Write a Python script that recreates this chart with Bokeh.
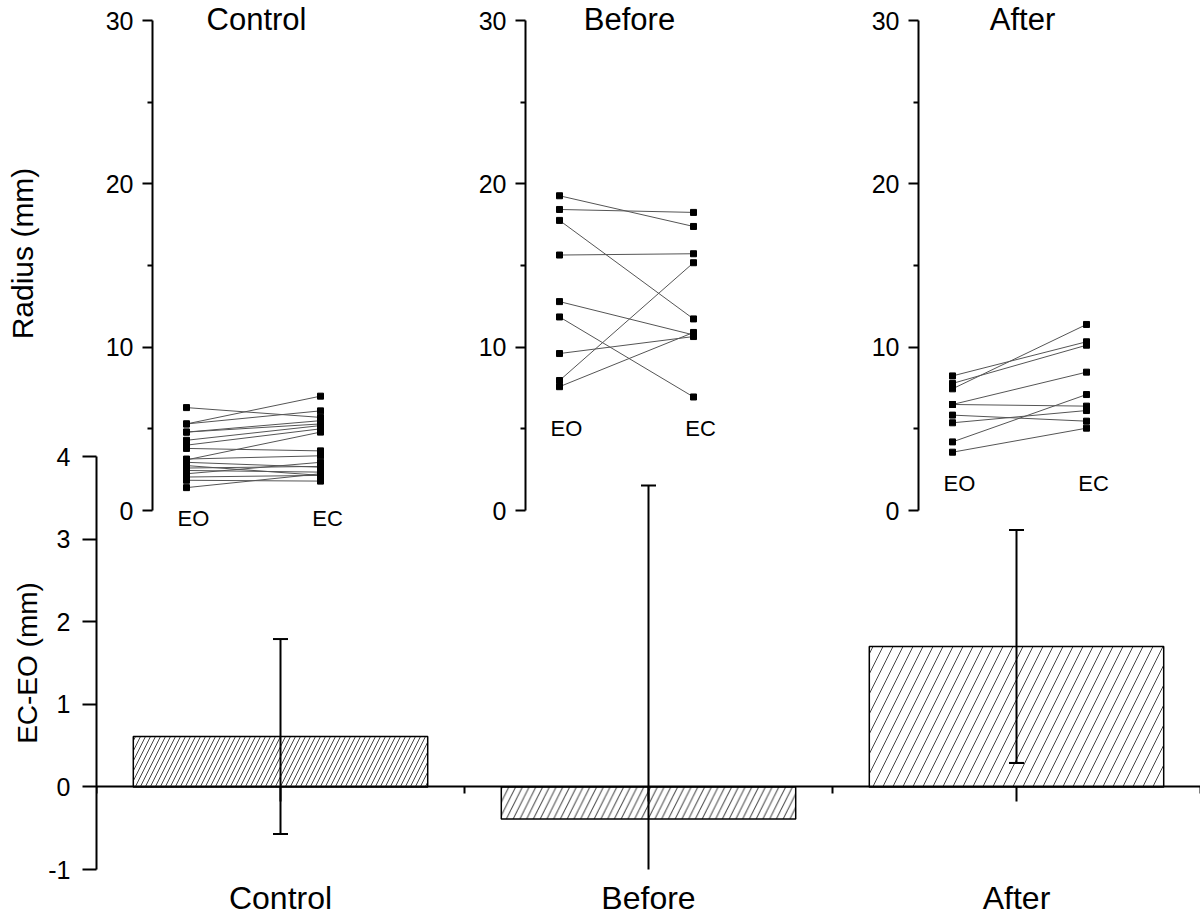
import numpy as np
from bokeh.plotting import figure
from bokeh.models import Range1d, LinearAxis, FixedTicker, ColumnDataSource, Label
from bokeh.embed import file_html
from bokeh.resources import INLINE
from bokeh.core.properties import value

FONT = "Liberation Sans"

# ---------------- data ----------------
categories = ["Control", "Before", "After"]
diff_mean = [0.61, -0.39, 1.70]          # EC-EO (mm)
diff_sd = [1.18, 4.04, 1.41]
diff_ticks = [-1, 0, 1, 2, 3, 4]

pair_labels = ["EO", "EC"]
radius_ticks = [0, 10, 20, 30]

control_eo = [6.3, 5.3, 5.3, 4.8, 4.8, 4.3, 4.0, 3.8, 3.1, 3.15, 2.95, 2.75, 2.6, 2.45, 2.25, 2.05, 1.85, 1.4]
control_ec = [5.7, 7.0, 6.1, 5.5, 5.3, 5.2, 5.0, 3.65, 4.8, 3.35, 2.65, 2.15, 2.7, 2.35, 2.95, 2.15, 1.8, 2.25]

before_eo = [19.27, 18.43, 17.76, 15.64, 12.79, 11.85, 9.61, 7.96, 7.58]
before_ec = [17.39, 18.25, 11.73, 15.72, 10.75, 6.95, 10.65, 15.17, 10.9]

after_eo = [8.24, 7.78, 7.45, 6.49, 6.49, 5.84, 5.37, 4.20, 3.57]
after_ec = [10.33, 10.12, 11.39, 8.47, 6.39, 5.47, 6.12, 7.10, 5.04]

# styles
hatch_scales = [10, 13.5, 20]

# ---------------- main bar chart ----------------
xs = list(range(1, len(categories) + 1))
W, H = 1200, 918
frame_left, frame_top, frame_bottom = 96, 456, 869
p = figure(width=W, height=H,
           x_range=Range1d(0.5, len(categories) + 0.5), y_range=Range1d(-1, 4),
           x_axis_type=None, y_axis_type=None,
           toolbar_location=None, output_backend="svg",
           min_border_left=frame_left, min_border_right=0,
           min_border_top=frame_top, min_border_bottom=H - frame_bottom,
           outline_line_color=None,
           styles={"position": "absolute", "left": "0px", "top": "0px"})

src = ColumnDataSource(dict(x=xs, top=diff_mean, hs=hatch_scales))
p.vbar(x="x", top="top", bottom=0, width=0.8, source=src,
       fill_color="white", line_color="black", line_width=1.5,
       hatch_pattern="/", hatch_scale="hs", hatch_color="#444444", hatch_weight=1)

upper = [m + s for m, s in zip(diff_mean, diff_sd)]
lower = [m - s for m, s in zip(diff_mean, diff_sd)]
p.segment(x0=xs, y0=lower, x1=xs, y1=upper, line_color="black", line_width=2)
p.scatter(x=xs + xs, y=upper + lower, marker="dash", size=15,
          line_color="black", line_width=2)

yaxis = LinearAxis(ticker=FixedTicker(ticks=diff_ticks), axis_label="EC-EO (mm)",
                   major_label_overrides={t: str(t) for t in diff_ticks},
                   major_tick_out=14, major_tick_in=0, major_label_standoff=12,
                   axis_line_width=2, major_tick_line_width=2,
                   major_label_text_font=FONT, major_label_text_font_size="25px",
                   major_label_text_color="black",
                   axis_label_text_font=FONT, axis_label_text_font_size="28px",
                   axis_label_text_font_style="normal", axis_label_text_color="black",
                   axis_label_standoff=2)
p.add_layout(yaxis, "left")

cat_axis = LinearAxis(ticker=FixedTicker(ticks=xs),
                      major_label_overrides={x: c for x, c in zip(xs, categories)},
                      axis_line_color=None, major_tick_line_color=None,
                      major_tick_out=0, major_tick_in=0, major_label_standoff=10,
                      major_label_text_font=FONT, major_label_text_font_size="32px",
                      major_label_text_color="black")
p.add_layout(cat_axis, "below")

boundaries = [x - 0.5 for x in xs] + [xs[-1] + 0.5]
zero_axis = LinearAxis(fixed_location=0,
                       ticker=FixedTicker(ticks=xs, minor_ticks=boundaries),
                       major_label_overrides={x: "" for x in xs},
                       major_tick_in=15, major_tick_out=0,
                       minor_tick_in=7, minor_tick_out=0,
                       axis_line_width=2, major_tick_line_width=2, minor_tick_line_width=2,
                       major_label_text_font_size="1px")
p.add_layout(zero_axis, "above")

# ---------------- insets ----------------
inset_axis_px = [152, 525, 918]
inset_data = [(categories[0], control_eo, control_ec),
              (categories[1], before_eo, before_ec),
              (categories[2], after_eo, after_ec)]
px_per_r = 490 / 30.0
y0_px = 510          # page y of radius 0
inset_top = -30      # page y of inset top edge (shifted up, so the y label centres like the reference)
inset_bottom = 536
inset_h = inset_bottom - inset_top
inset_frame_w = 208
px_per_pair = 134
eo_off = 34

insets = []
for i, (title, eo, ec) in enumerate(inset_data):
    first = i == 0
    bl = 152 if first else 60
    fig_left = inset_axis_px[i] - bl
    xstart = 1 - eo_off / px_per_pair
    ip = figure(width=bl + inset_frame_w, height=inset_h,
                x_range=Range1d(xstart, xstart + inset_frame_w / px_per_pair),
                y_range=Range1d(-(inset_bottom - y0_px) / px_per_r, (y0_px - inset_top) / px_per_r),
                x_axis_type=None, y_axis_type=None,
                toolbar_location=None, output_backend="svg",
                min_border_left=bl, min_border_right=0, min_border_top=0, min_border_bottom=0,
                background_fill_alpha=0, border_fill_alpha=0, outline_line_color=None,
                styles={"position": "absolute", "left": f"{fig_left}px", "top": f"{inset_top}px"})
    minors = [(a + b) / 2 for a, b in zip(radius_ticks[:-1], radius_ticks[1:])]
    ax = LinearAxis(ticker=FixedTicker(ticks=radius_ticks, minor_ticks=minors),
                    bounds=(radius_ticks[0], radius_ticks[-1]),
                    major_tick_out=10, major_tick_in=0, minor_tick_out=5, minor_tick_in=0,
                    major_label_standoff=9, axis_line_width=2,
                    major_tick_line_width=2, minor_tick_line_width=2,
                    major_label_text_font=FONT, major_label_text_font_size="25px",
                    major_label_text_color="black")
    if first:
        ax.axis_label = "Radius (mm)"
        ax.axis_label_text_font = FONT
        ax.axis_label_text_font_size = "30px"
        ax.axis_label_text_font_style = "normal"
        ax.axis_label_text_color = "black"
        ax.axis_label_standoff = 64
    ip.add_layout(ax, "left")

    n = len(eo)
    ip.segment(x0=[1] * n, y0=eo, x1=[2] * n, y1=ec, line_color="#555555", line_width=1)
    ip.scatter(x=[1] * n + [2] * n, y=eo + ec, marker="square", size=6,
               fill_color="black", line_color="black")
    lab_y = min(eo + ec) - 1.9
    ip.text(x=[1, 2], y=[lab_y, lab_y], text=pair_labels, text_font=value(FONT),
            text_font_size="22px", text_align="center", text_baseline="middle",
            text_color="black", x_offset=7)
    # title: top of its text box just inside the page top
    ip.add_layout(Label(x=1.5, y=(y0_px - 1) / px_per_r, text=title, text_font=FONT,
                        text_font_size="31px", text_align="center", text_baseline="top",
                        text_color="black", x_offset=3))
    insets.append(ip)

open("out.html", "w").write(file_html([p] + insets, INLINE))
